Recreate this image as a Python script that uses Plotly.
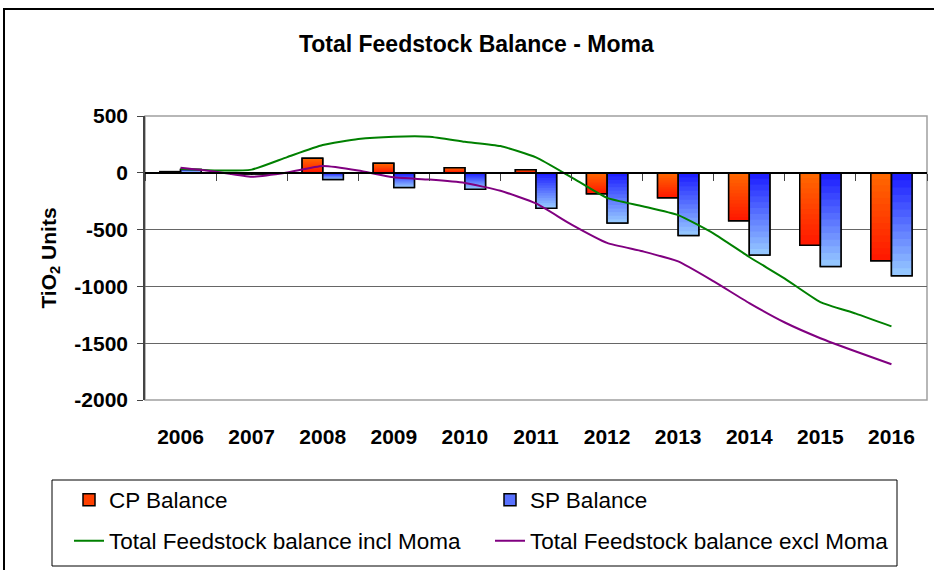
import plotly.graph_objects as go

### data
years = [2006, 2007, 2008, 2009, 2010, 2011, 2012, 2013, 2014, 2015, 2016]
cp_balance = [10, -10, 127, 83, 44, 26, -185, -220, -421, -638, -774]
sp_balance = [30, -10, -58, -129, -144, -311, -441, -553, -723, -824, -906]

half_years = [2006, 2006.5, 2007, 2007.5, 2008, 2008.5, 2009, 2009.5, 2010, 2010.5, 2011,
              2011.5, 2012, 2012.5, 2013, 2013.5, 2014, 2014.5, 2015, 2015.5, 2016]
incl_moma = [35, 20, 28, 138, 244, 297, 318, 318, 273, 235, 136,
             -40, -221, -294, -373, -535, -741, -931, -1138, -1240, -1352]
excl_moma = [44, 9, -35, 3, 59, 20, -40, -60, -90, -158, -270,
             -456, -617, -691, -780, -956, -1147, -1318, -1456, -1573, -1685]

y_ticks = [500, 0, -500, -1000, -1500, -2000]
y_tick_text = ['500', '0', '-500', '-1000', '-1500', '-2000']

### styles
FONT = 'Liberation Sans, Arial, sans-serif'
BAR_W = 0.29
N_BANDS = 14
cp_top, cp_bottom = (255, 106, 0), (255, 22, 0)
sp_top, sp_bottom = (25, 25, 255), (153, 204, 255)

# plot area in pixels (for placing the frame and legend box)
L, R, T, B = 145, 927, 116, 400
PW, PH = R - L, B - T


def px_x(x):
    return (x - L) / PW


def px_y(y):
    return (B - y) / PH


def mix(a, b, t):
    return 'rgb(%d,%d,%d)' % tuple(round(a[i] + (b[i] - a[i]) * t) for i in range(3))


fig = go.Figure()

# legend entries (full bars with outline)
fig.add_trace(go.Bar(x=years, y=cp_balance, name='CP Balance', width=BAR_W, offset=-BAR_W,
                     marker=dict(color=mix(cp_top, cp_bottom, 0.5), line=dict(color='black', width=1.5)),
                     legend='legend'))
fig.add_trace(go.Bar(x=years, y=sp_balance, name='SP Balance', width=BAR_W, offset=0,
                     marker=dict(color=mix(sp_top, sp_bottom, 0.5), line=dict(color='black', width=1.5)),
                     legend='legend'))

# fake vertical gradient: nested bars, deepest first
for vals, top, bottom, off in [(cp_balance, cp_top, cp_bottom, -BAR_W), (sp_balance, sp_top, sp_bottom, 0)]:
    for k in range(N_BANDS, 0, -1):
        t = k / N_BANDS
        tm = t - 0.5 / N_BANDS
        cols = [mix(top, bottom, tm) if v < 0 else mix(bottom, top, tm) for v in vals]
        fig.add_trace(go.Bar(x=years, y=[v * t for v in vals], width=BAR_W, offset=off,
                             marker=dict(color=cols, line=dict(width=0)),
                             showlegend=False, hoverinfo='skip'))

# outlines on top
for vals, off in [(cp_balance, -BAR_W), (sp_balance, 0)]:
    fig.add_trace(go.Bar(x=years, y=vals, width=BAR_W, offset=off,
                         marker=dict(color='rgba(0,0,0,0)', line=dict(color='black', width=1.5)),
                         showlegend=False, hoverinfo='skip'))

fig.add_trace(go.Scatter(x=half_years, y=incl_moma, mode='lines', name='Total Feedstock balance incl Moma',
                         line=dict(color='#008000', width=2, shape='spline', smoothing=0.5), legend='legend2'))
fig.add_trace(go.Scatter(x=half_years, y=excl_moma, mode='lines', name='Total Feedstock balance excl Moma',
                         line=dict(color='#800080', width=2, shape='spline', smoothing=0.5), legend='legend2'))

# dummy trace so the zero-line category axis is drawn
fig.add_trace(go.Scatter(x=years, y=[None] * len(years), xaxis='x2', showlegend=False, hoverinfo='skip'))

fig.update_layout(
    width=934, height=570,
    margin=dict(l=L, r=934 - R, t=T, b=570 - B, autoexpand=False),
    paper_bgcolor='white', plot_bgcolor='white',
    barmode='overlay',
    font=dict(family=FONT, size=22, color='black'),
    title=dict(text='Total Feedstock Balance - Moma', xref='container', yref='container',
               x=0.51, y=1 - 44 / 570, xanchor='center', yanchor='middle',
               font=dict(size=23, weight='bold')),
    xaxis=dict(range=[2005.5, 2016.5], tickvals=years, ticks='', showgrid=False, zeroline=False,
               showline=False, ticklabelstandoff=22,
               tickfont=dict(size=21, weight='bold')),
    xaxis2=dict(overlaying='x', anchor='free', position=0.8, range=[2005.5, 2016.5],
                tickvals=[y - 0.5 for y in years] + [2016.5], ticks='outside', ticklen=7,
                tickcolor='#444', tickwidth=1, showticklabels=False, showgrid=False, zeroline=False,
                showline=True, linecolor='black', linewidth=1.5),
    yaxis=dict(range=[-2000, 500], tickvals=y_ticks, ticktext=y_tick_text,
               ticks='outside', ticklen=6, tickcolor='#444', showgrid=True, gridcolor='#666', gridwidth=1,
               zeroline=False, showline=True, linecolor='#444', linewidth=1.5,
               ticklabelstandoff=5, tickfont=dict(size=21, weight='bold'),
               title=dict(text='TiO<sub>2</sub> Units', standoff=12, font=dict(size=21, weight='bold'))),
    legend=dict(orientation='h', x=px_x(69), y=px_y(500), xanchor='left', yanchor='middle',
                entrywidth=376, bgcolor='rgba(0,0,0,0)', borderwidth=0, font=dict(size=22.5)),
    legend2=dict(orientation='h', x=px_x(69), y=px_y(541), xanchor='left', yanchor='middle',
                 entrywidth=376, bgcolor='rgba(0,0,0,0)', borderwidth=0, font=dict(size=22.5)),
    shapes=[
        # plot area border
        dict(type='rect', xref='paper', yref='paper', x0=0, x1=1, y0=0, y1=1,
             line=dict(color='#a0a0a0', width=1.5), layer='below'),
        # legend box
        dict(type='rect', xref='paper', yref='paper', x0=px_x(52), x1=px_x(897),
             y0=px_y(566), y1=px_y(480), line=dict(color='black', width=1)),
        # chart frame
        dict(type='rect', xref='paper', yref='paper', x0=px_x(4), x1=px_x(945),
             y0=px_y(580), y1=px_y(9), line=dict(color='black', width=2)),
    ],
)

# drop the default 8px page margin so the figure sits at the window's corner
fig.write_html('out.html', config={'displayModeBar': False},
               post_script="document.body.style.margin='0';")
